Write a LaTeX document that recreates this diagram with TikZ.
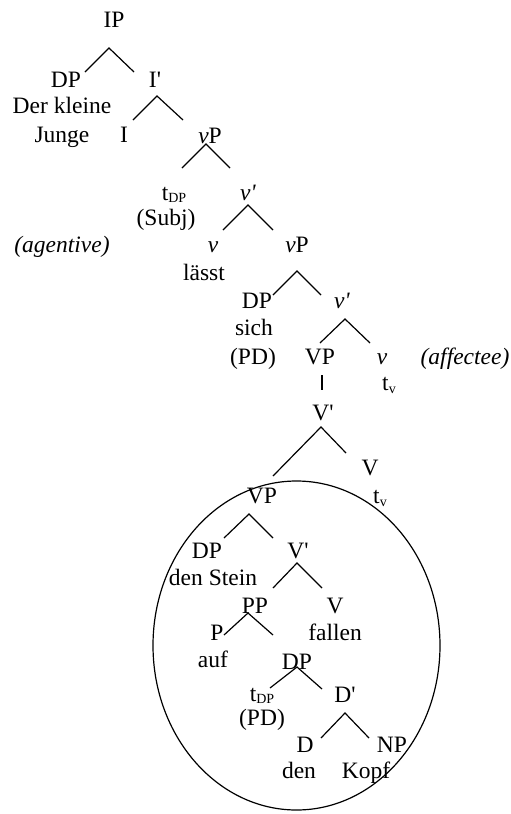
\documentclass[tikz,border=0pt]{standalone}
\usepackage{fontspec}
\newfontfamily\tnr{Liberation Serif}
\newcommand{\subx}[2][2pt]{\raisebox{-#1}{\fontsize{14}{15}\selectfont #2}}
\begin{document}
\begin{tikzpicture}[x=1pt,y=-1pt,
  every node/.style={font=\tnr\fontsize{23.5}{26}\selectfont, inner sep=0pt, anchor=base},
  br/.style={line width=1.2pt}]
\useasboundingbox (0,0) rectangle (511,814);
% nodes
\node (ip) at (114,27) {IP};
\node (dp1) at (66,87) {DP};
\node (ib) at (155,87) {I'};
\node (dk) at (62,113) {Der kleine};
\node (ju) at (62,142) {Junge};
\node (i) at (124,142) {I};
\node (vp1) at (210,143) {\textit{v}P};
\node (tdp1) at (174,200) {t\subx{DP}};
\node (vb1) at (248,200) {\textit{v'}};
\node (subj) at (166,225) {(Subj)};
\node (agt) at (62,252) {\textit{(agentive)}};
\node (v1) at (213,252) {\textit{v}};
\node (vp2) at (297,252) {\textit{v}P};
\node (lasst) at (204,280) {lässt};
\node (dp2) at (257,308) {DP};
\node (vb2) at (342,308) {\textit{v'}};
\node (sich) at (254,335) {sich};
\node (pd1) at (253,364) {(PD)};
\node (vp3) at (320,364) {VP};
\node (v2) at (382,364) {\textit{v}};
\node (aff) at (465,364) {\textit{(affectee)}};
\node (tv1) at (389,390) {t\subx[3pt]{v}};
\node (vbar1) at (323,420) {V'};
\node (vh1) at (370,475) {V};
\node (vp4) at (262,503) {VP};
\node (tv2) at (380,503) {t\subx[3pt]{v}};
\node (dp3) at (207,558) {DP};
\node (vbar2) at (298,558) {V'};
\node (stein) at (213,585) {den Stein};
\node (pp) at (255,613) {PP};
\node (vh2) at (335,613) {V};
\node (p) at (217,640) {P};
\node (fallen) at (335,640) {fallen};
\node (auf) at (213,667) {auf};
\node (dp4) at (297,669) {DP};
\node (tdp2) at (262,701) {t\subx{DP}};
\node (db) at (345,702) {D'};
\node (pd2) at (262,725) {(PD)};
\node (d) at (305,752) {D};
\node (np) at (392,752) {NP};
\node (den) at (299,778) {den};
\node (kopf) at (366,778) {Kopf};
% branch points
\coordinate (a1) at (109,48);  \coordinate (l1) at (85,72);  \coordinate (r1) at (134,72);
\coordinate (a2) at (157,96);  \coordinate (l2) at (133,120); \coordinate (r2) at (183,120);
\coordinate (a3) at (206,144); \coordinate (l3) at (182,168); \coordinate (r3) at (230,168);
\coordinate (a4) at (248,205); \coordinate (l4) at (223,230); \coordinate (r4) at (273,230);
\coordinate (a5) at (297,271); \coordinate (l5) at (273,295); \coordinate (r5) at (321,295);
\coordinate (a6) at (345,319); \coordinate (l6) at (320,343); \coordinate (r6) at (370,343);
\coordinate (u7) at (322,375); \coordinate (d7) at (322,390);
\coordinate (a8) at (321,427); \coordinate (l8) at (273,476); \coordinate (r8) at (346,453);
\coordinate (a9) at (249,514); \coordinate (l9) at (224,538); \coordinate (r9) at (273,538);
\coordinate (a10) at (297,563); \coordinate (l10) at (273,588); \coordinate (r10) at (322,588);
\coordinate (a11) at (248,613); \coordinate (l11) at (224,635); \coordinate (r11) at (273,635);
\coordinate (a12) at (297,667); \coordinate (l12) at (270,688); \coordinate (r12) at (322,689);
\coordinate (a13) at (345,713); \coordinate (l13) at (321,738); \coordinate (r13) at (369,738);
\foreach \k in {1,2,3,4,5,6,8,9,10,11,12,13}{
  \draw[br] (l\k) -- (a\k) -- (r\k);
}
\draw[br] (u7) -- (d7);
% circle
\coordinate (ec) at (296.5,645.5);
\draw[br] (ec) ellipse [x radius=143.5, y radius=164.5];
\end{tikzpicture}
\end{document}
